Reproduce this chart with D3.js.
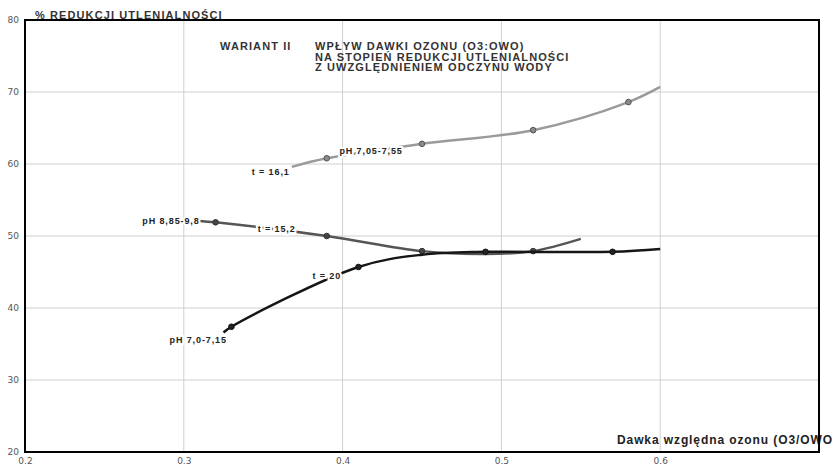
<!DOCTYPE html>
<html>
<head>
<meta charset="utf-8">
<script src="https://cdn.jsdelivr.net/npm/d3@7"></script>
<style>
  body { margin: 0; background: #fff; }
  svg { display: block; font-family: 'Liberation Sans', Arial, sans-serif; }
</style>
</head>
<body>
<svg id="chart" width="836" height="467"></svg>
<script>
// axis ticks
const xTicks = [0.2, 0.3, 0.4, 0.5, 0.6];
const yTicks = [20, 30, 40, 50, 60, 70, 80];

// series: curve points [dose, % reduction] and marker points
const lightCurve = [[0.368, 59.6], [0.39, 60.8], [0.45, 62.8], [0.52, 64.7], [0.58, 68.6], [0.6, 70.7]];
const lightMarks = [[0.39, 60.8], [0.45, 62.8], [0.52, 64.7], [0.58, 68.6]];

const darkCurve = [[0.31, 52.1], [0.32, 51.9], [0.39, 50.0], [0.45, 47.9], [0.49, 47.5], [0.52, 47.9], [0.55, 49.6]];
const darkMarks = [[0.32, 51.9], [0.39, 50.0], [0.45, 47.9], [0.52, 47.9]];

const blackCurve = [[0.325, 36.6], [0.33, 37.4], [0.41, 45.7], [0.45, 47.4], [0.49, 47.8], [0.57, 47.8], [0.6, 48.2]];
const blackMarks = [[0.33, 37.4], [0.41, 45.7], [0.49, 47.8], [0.57, 47.8]];

// curve annotations [text, x, y, anchor]
const curveLabels = [
    ['t = 16,1', 0.3667, 58.9, 'end'],
    ['pH 7,05-7,55', 0.398, 61.8, 'start'],
    ['pH 8,85-9,8', 0.310, 52.1, 'end'],
    ['t = 15,2', 0.3465, 51.0, 'start'],
    ['t = 20', 0.381, 44.4, 'start'],
    ['pH 7,0-7,15', 0.291, 35.6, 'start']
];

const titleLines = ['WPŁYW DAWKI OZONU (O3:OWO)', 'NA STOPIEŃ REDUKCJI UTLENIALNOŚCI', 'Z UWZGLĘDNIENIEM ODCZYNU WODY'];

const margin = { top: 20, right: 17, bottom: 15, left: 25 };
const width = 836 - margin.left - margin.right;
const height = 467 - margin.top - margin.bottom;

const svg = d3.select('#chart');
const g = svg.append('g').attr('transform', `translate(${margin.left},${margin.top})`);

const x = d3.scaleLinear().domain([0.2, 0.7]).range([0, width]);
const y = d3.scaleLinear().domain([20, 80]).range([height, 0]);

// grid
g.append('g')
    .selectAll('line.vgrid')
    .data(xTicks.slice(1))
    .enter()
    .append('line')
        .attr('x1', d => x(d)).attr('x2', d => x(d))
        .attr('y1', 0).attr('y2', height)
        .attr('stroke', '#cfcfcf').attr('stroke-width', 1);

g.append('g')
    .selectAll('line.hgrid')
    .data(yTicks.slice(1, -1))
    .enter()
    .append('line')
        .attr('x1', 0).attr('x2', width)
        .attr('y1', d => y(d)).attr('y2', d => y(d))
        .attr('stroke', '#cfcfcf').attr('stroke-width', 1);

// axes (labels only)
const xAxis = g.append('g')
    .attr('transform', `translate(0,${height})`)
    .call(d3.axisBottom(x).tickValues(xTicks).tickFormat(d3.format('.1f')).tickSize(0).tickPadding(6));
const yAxis = g.append('g')
    .call(d3.axisLeft(y).tickValues(yTicks).tickSize(0).tickPadding(6));
[xAxis, yAxis].forEach(a => {
    a.select('.domain').remove();
    a.selectAll('text').attr('fill', '#555').style('font-size', '9px')
        .style('font-family', "'DejaVu Sans', sans-serif");
});

const line = d3.line()
    .x(d => x(d[0]))
    .y(d => y(d[1]))
    .curve(d3.curveCatmullRom.alpha(0.5));

const series = [
    { curve: lightCurve, marks: lightMarks, color: '#9a9a9a', mark: '#8a8a8a', edge: '#555' },
    { curve: darkCurve, marks: darkMarks, color: '#555', mark: '#444', edge: '#333' },
    { curve: blackCurve, marks: blackMarks, color: '#161616', mark: '#222', edge: '#111' }
];

series.forEach(s => {
    g.append('path')
        .datum(s.curve)
        .attr('d', line)
        .attr('fill', 'none')
        .attr('stroke', s.color)
        .attr('stroke-width', 2.5);
    g.append('g')
        .selectAll('circle')
        .data(s.marks)
        .enter()
        .append('circle')
            .attr('cx', d => x(d[0]))
            .attr('cy', d => y(d[1]))
            .attr('r', 2.8)
            .attr('fill', s.mark)
            .attr('stroke', s.edge)
            .attr('stroke-width', 1);
});

// curve labels with white halo that breaks the lines
g.append('g')
    .selectAll('text')
    .data(curveLabels)
    .enter()
    .append('text')
        .attr('x', d => x(d[1]))
        .attr('y', d => y(d[2]))
        .attr('dy', '0.35em')
        .attr('text-anchor', d => d[3])
        .text(d => d[0])
        .attr('fill', '#222')
        .attr('stroke', '#fff')
        .attr('stroke-width', 4)
        .attr('paint-order', 'stroke')
        .style('font-size', '9px')
        .style('letter-spacing', '0.9px')
        .style('font-weight', 'bold');

// titles
const titleStyle = sel => sel
    .attr('fill', '#333')
    .style('font-size', '11px')
    .style('letter-spacing', '1.1px')
    .style('font-weight', 'bold');

g.append('text')
    .attr('x', 195).attr('y', 30)
    .text('WARIANT II')
    .call(titleStyle);

g.append('g')
    .selectAll('text')
    .data(titleLines)
    .enter()
    .append('text')
        .attr('x', 290)
        .attr('y', (d, i) => 30 + i * 10.7)
        .text(d => d)
        .call(titleStyle);

svg.append('text')
    .attr('x', 35).attr('y', 19)
    .text('% REDUKCJI UTLENIALNOŚCI')
    .call(titleStyle);

g.append('text')
    .attr('x', 592).attr('y', 424)
    .text('Dawka względna ozonu (O3/OWO')
    .attr('fill', '#222')
    .style('font-size', '12px')
    .style('letter-spacing', '0.9px')
    .style('font-weight', 'bold');

// frame
g.append('rect')
    .attr('x', 0).attr('y', 0)
    .attr('width', width).attr('height', height)
    .attr('fill', 'none')
    .attr('stroke', '#000')
    .attr('stroke-width', 2);
</script>
</body>
</html>
